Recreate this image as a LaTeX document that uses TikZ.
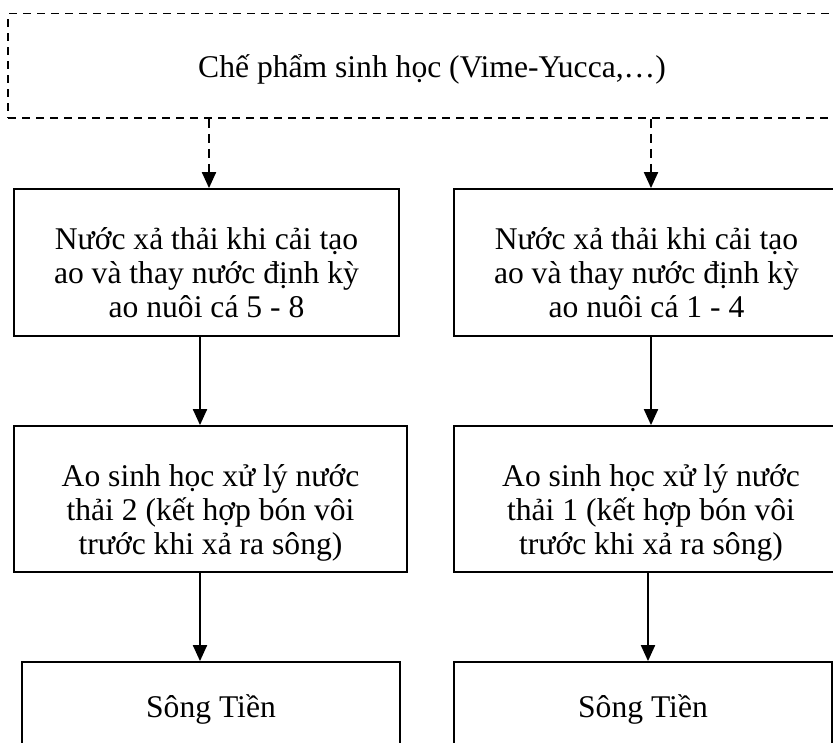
\documentclass[tikz,border=0pt]{standalone}
\usepackage{fontspec}
\setmainfont{Liberation Serif}
\usetikzlibrary{arrows.meta}
\tikzset{
  box/.style={draw, line width=1.8pt, inner sep=0pt, align=center,
    font={\fontsize{31.6}{34}\selectfont\lineskiplimit=-100pt\lineskip=0pt}},
  dbox/.style={box, dash pattern=on 8pt off 6pt},
  arr/.style={line width=2pt, -{Triangle[width=14pt,length=16pt]}},
  darr/.style={arr, dash pattern=on 9pt off 6pt},
  three/.style={text height=110pt, text depth=0pt},
}
\begin{document}
\begin{tikzpicture}[x=1pt,y=-1pt]
\clip (0,0) rectangle (833,742);
\node[dbox, minimum width=848pt, minimum height=104.5pt, text height=22.5pt, text depth=0pt] (top) at (432,65.75)
  {Chế phẩm sinh học (Vime-Yucca,…)};
\node[box, three, minimum width=385pt, minimum height=147pt] (r2l) at (206.5,262.5)
  {Nước xả thải khi cải tạo\\ao và thay nước định kỳ\\ao nuôi cá 5 - 8};
\node[box, three, minimum width=385pt, minimum height=147pt] (r2r) at (646.5,262.5)
  {Nước xả thải khi cải tạo\\ao và thay nước định kỳ\\ao nuôi cá 1 - 4};
\node[box, three, minimum width=393pt, minimum height=146pt] (r3l) at (210.5,499)
  {Ao sinh học xử lý nước\\thải 2 (kết hợp bón vôi\\trước khi xả ra sông)};
\node[box, three, minimum width=394pt, minimum height=146pt] (r3r) at (651,499)
  {Ao sinh học xử lý nước\\thải 1 (kết hợp bón vôi\\trước khi xả ra sông)};
\node[box, text height=15.4pt, text depth=0pt, minimum width=378pt, minimum height=96pt] (r4l) at (211,710) {Sông Tiền};
\node[box, text height=15.4pt, text depth=0pt, minimum width=378pt, minimum height=96pt] (r4r) at (643,710) {Sông Tiền};
\coordinate (xa) at (209,0);
\coordinate (xb) at (651,0);
\coordinate (xc) at (200,0);
\coordinate (xd) at (648,0);
\draw[darr] (top.south -| xa) -- (r2l.north -| xa);
\draw[darr] (top.south -| xb) -- (r2r.north -| xb);
\draw[arr] (r2l.south -| xc) -- (r3l.north -| xc);
\draw[arr] (r2r.south -| xb) -- (r3r.north -| xb);
\draw[arr] (r3l.south -| xc) -- (r4l.north -| xc);
\draw[arr] (r3r.south -| xd) -- (r4r.north -| xd);
\end{tikzpicture}
\end{document}
